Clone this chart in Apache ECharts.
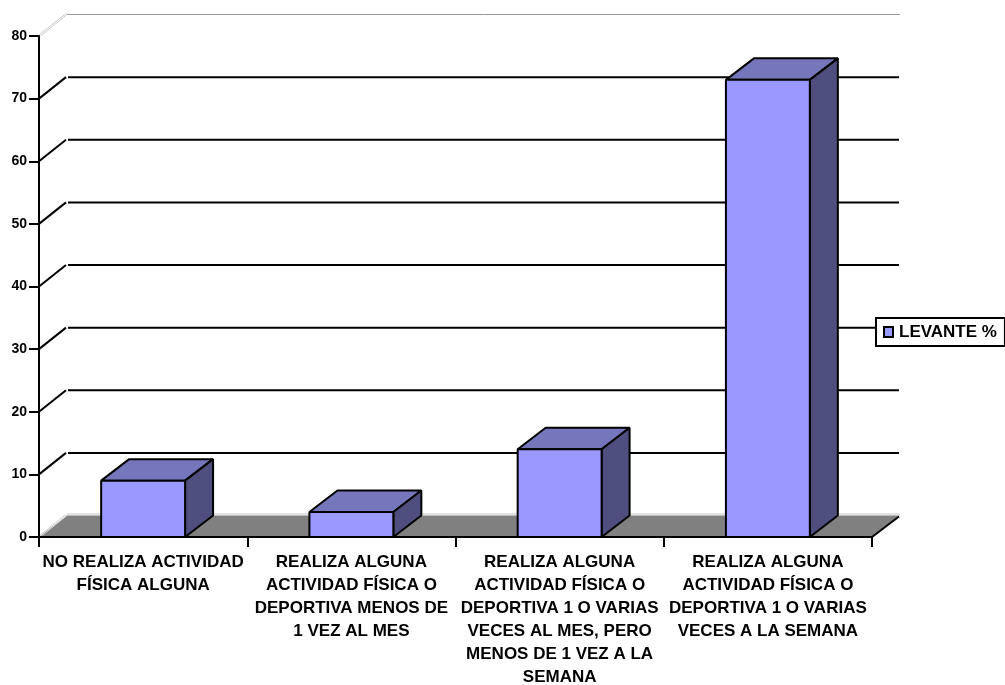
<!DOCTYPE html>
<html>
<head>
<meta charset="utf-8">
<title>Actividad fisica</title>
<script src="https://cdn.jsdelivr.net/npm/echarts@6/dist/echarts.min.js"></script>
<style>
html, body { margin: 0; padding: 0; background: #fff; overflow: hidden; }
#container { width: 1005px; height: 685px; }
</style>
</head>
<body>
<div id="container"></div>
<script>
// data
var categories = [
    'NO REALIZA ACTIVIDAD\nFÍSICA ALGUNA',
    'REALIZA ALGUNA\nACTIVIDAD FÍSICA O\nDEPORTIVA MENOS DE\n1 VEZ AL MES',
    'REALIZA ALGUNA\nACTIVIDAD FÍSICA O\nDEPORTIVA 1 O VARIAS\nVECES AL MES, PERO\nMENOS DE 1 VEZ A LA\nSEMANA',
    'REALIZA ALGUNA\nACTIVIDAD FÍSICA O\nDEPORTIVA 1 O VARIAS\nVECES A LA SEMANA'
];
var levante = [9, 4, 14, 73];
var yTicks = [0, 10, 20, 30, 40, 50, 60, 70, 80];
var seriesName = 'LEVANTE %';

// fake 3d look, depth of the box in pixels
var DX = 28;
var DY = -21.5;
var BAR_RATIO = 0.403;
var FONT = '"Liberation Sans", Arial, sans-serif';

function line(x1, y1, x2, y2, color, width) {
    return {
        type: 'line',
        shape: { x1: x1, y1: y1, x2: x2, y2: y2 },
        style: { stroke: color, lineWidth: width }
    };
}

function poly(points, fill) {
    return {
        type: 'polygon',
        shape: { points: points },
        style: { fill: fill, stroke: '#000', lineWidth: 2, lineJoin: 'bevel' }
    };
}

// wall lines, one per tick
function renderGrid(params, api) {
    var left = params.coordSys.x;
    var right = left + params.coordSys.width;
    var y = api.coord([0, api.value(1)])[1];
    var t = api.value(1);
    var children = [];
    if (t === yTicks[0] || t === yTicks[yTicks.length - 1]) {
        // the two light edges of the wall
        var by = t === yTicks[0] ? y + DY - 1.5 : y + DY;
        children.push(line(left + DX, by, right + DX, by, t === yTicks[0] ? '#c8c8c8' : '#999', 1));
        children.push(line(left, y - 1, left + DX - 1, y + DY - 1, '#ccc', 1));
        children.push(line(left + 1.5, y, left + DX, y + DY, '#ccc', 1));
    } else {
        children.push(line(left, y, left + DX - 1, y + DY, '#000', 2));
        children.push(line(left + DX + 1, y + DY, right + DX - 1, y + DY, '#000', 2));
    }
    return { type: 'group', children: children };
}

function renderFloor(params, api) {
    var left = params.coordSys.x;
    var right = left + params.coordSys.width;
    var y = api.coord([0, 0])[1];
    return {
        type: 'group',
        children: [
            {
                type: 'polygon',
                shape: { points: [[left, y], [right, y], [right + DX, y + DY], [left + DX, y + DY]] },
                style: { fill: '#808080' }
            },
            line(right, y, right + DX - 1, y + DY + 1, '#000', 2)
        ]
    };
}

function renderBar(params, api) {
    var c = api.coord([api.value(0), api.value(1)]);
    var base = api.coord([api.value(0), 0]);
    var w = api.size([1, 0])[0] * BAR_RATIO;
    var x0 = c[0] - w / 2;
    var x1 = c[0] + w / 2;
    var top = c[1];
    var bot = base[1];
    return {
        type: 'group',
        children: [
            poly([[x0, top], [x1, top], [x1 + DX, top + DY], [x0 + DX, top + DY]], '#7676BC'),
            poly([[x1, top], [x1 + DX, top + DY], [x1 + DX, bot + DY], [x1, bot]], '#4E4E7F'),
            poly([[x0, top], [x1, top], [x1, bot], [x0, bot]], '#9999FF')
        ]
    };
}

var dom = document.getElementById('container');
var myChart = echarts.init(dom);

var option = {
    backgroundColor: '#fff',
    animation: false,
    textStyle: { fontFamily: FONT },
    grid: { left: 39, top: 36, width: 833, height: 501, outerBoundsMode: 'none' },
    legend: {
        left: 876,
        top: 318,
        data: [seriesName],
        icon: 'rect',
        itemWidth: 9,
        itemHeight: 10,
        itemGap: 0,
        padding: [4, 8, 4, 7],
        backgroundColor: '#fff',
        borderColor: '#000',
        borderWidth: 2,
        borderRadius: 0,
        selectedMode: false,
        itemStyle: { color: '#9999FF', borderColor: '#000', borderWidth: 2 },
        textStyle: { color: '#000', fontWeight: 'bold', fontSize: 17, lineHeight: 20, fontFamily: FONT, padding: [0, 0, 0, 1] }
    },
    xAxis: {
        type: 'category',
        data: categories,
        z: 2,
        axisLine: { lineStyle: { color: '#000', width: 2 } },
        axisTick: { show: true, length: 10, lineStyle: { color: '#000', width: 2 } },
        axisLabel: {
            interval: 0,
            margin: 14,
            color: '#000',
            fontWeight: 'bold',
            fontSize: 17,
            lineHeight: 23,
            fontFamily: FONT
        }
    },
    yAxis: {
        type: 'value',
        min: 0,
        max: 80,
        interval: 10,
        z: 2,
        splitLine: { show: false },
        axisLine: { show: true, lineStyle: { color: '#000', width: 2 } },
        axisTick: { show: true, length: 10, lineStyle: { color: '#000', width: 2 } },
        axisLabel: {
            margin: 12,
            color: '#000',
            fontWeight: 'bold',
            fontSize: 14,
            fontFamily: FONT
        }
    },
    series: [
        {
            name: 'floor',
            type: 'custom',
            z: 1,
            silent: true,
            clip: false,
            renderItem: renderFloor,
            data: [[0, 0]]
        },
        {
            name: 'wall',
            type: 'custom',
            z: 1,
            silent: true,
            clip: false,
            renderItem: renderGrid,
            data: yTicks.map(function (t) { return [0, t]; })
        },
        {
            name: seriesName,
            type: 'custom',
            z: 3,
            clip: false,
            renderItem: renderBar,
            itemStyle: { color: '#9999FF' },
            encode: { x: 0, y: 1 },
            data: levante.map(function (v, i) { return [i, v]; })
        }
    ]
};
myChart.setOption(option, true);
</script>
</body>
</html>
